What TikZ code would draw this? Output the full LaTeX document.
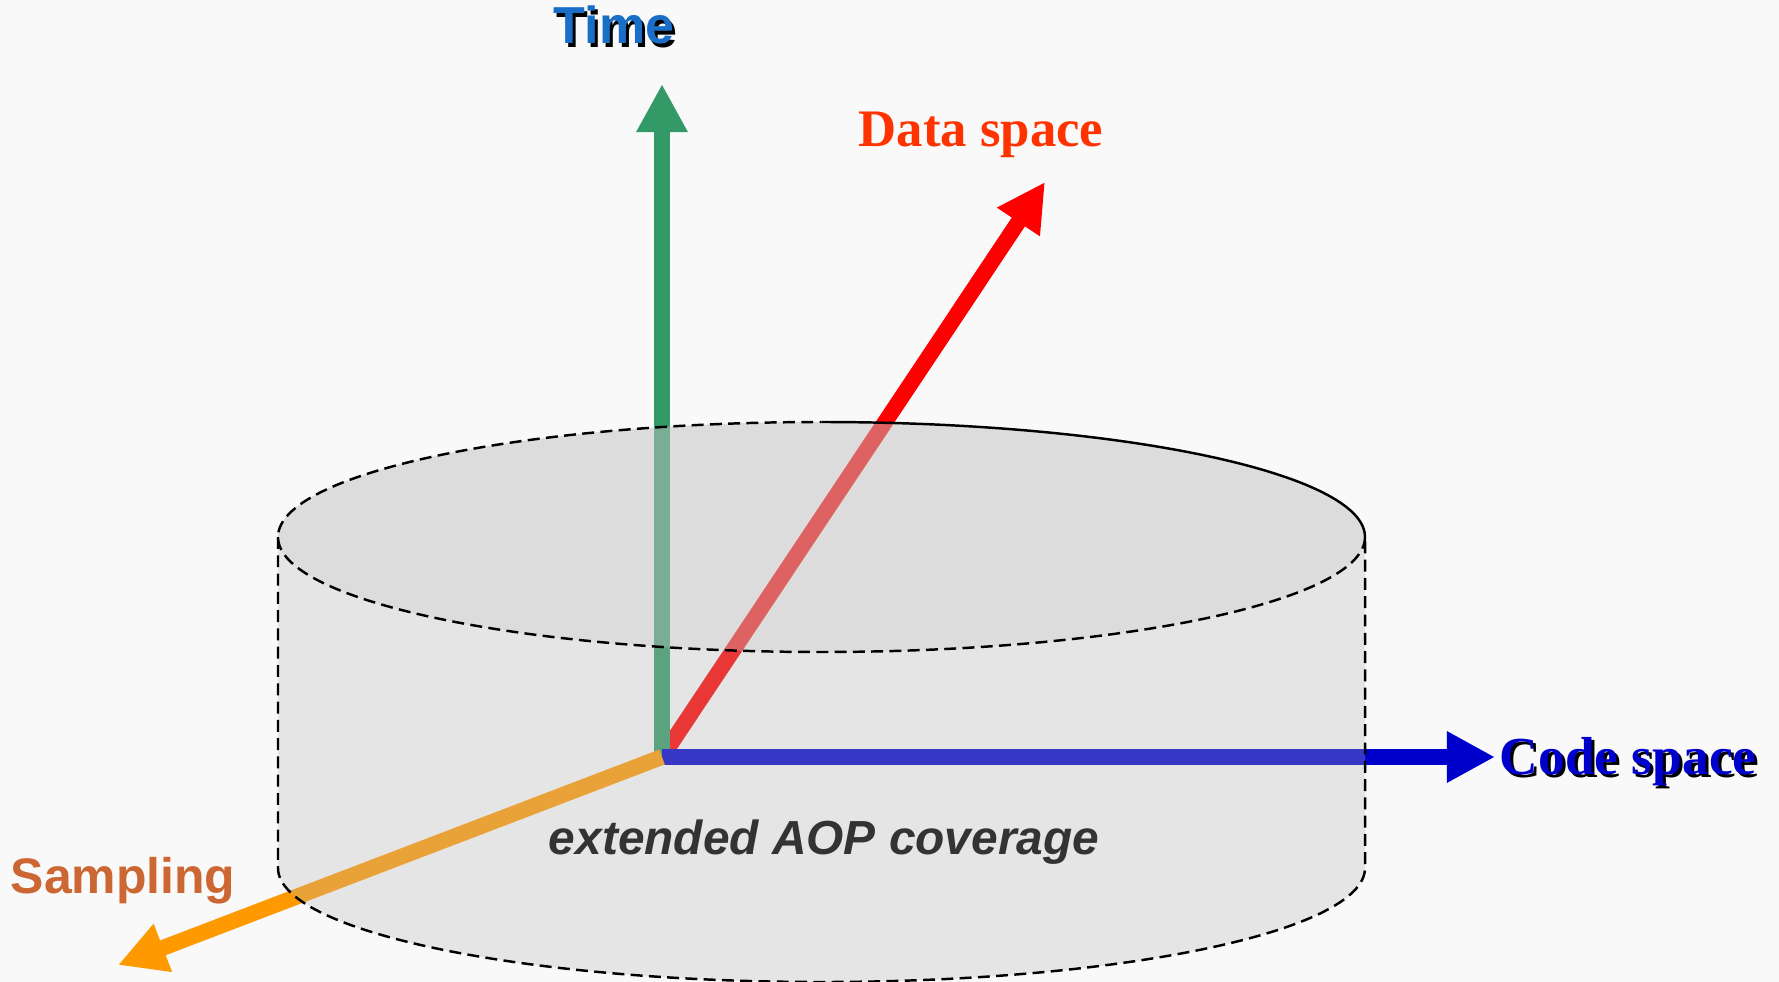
\documentclass[tikz,border=0pt]{standalone}
\usepackage{fontspec}
\setmainfont{Liberation Serif}
\setsansfont{Liberation Sans}
\usetikzlibrary{arrows.meta}

\definecolor{bgcol}{RGB}{249,249,249}
\definecolor{cylcol}{RGB}{185,185,185}
\definecolor{topcol}{RGB}{200,200,200}
\definecolor{timecol}{RGB}{51,153,102}
\definecolor{timetext}{RGB}{25,110,200}
\definecolor{datacol}{RGB}{255,0,0}
\definecolor{datatext}{RGB}{255,51,0}
\definecolor{codecol}{RGB}{0,0,204}
\definecolor{sampcol}{RGB}{255,153,0}
\definecolor{samptext}{RGB}{204,102,51}
\definecolor{covtext}{RGB}{51,51,51}

\newcommand{\shadowed}[2]{\makebox[0pt][l]{\hspace{0.9pt}\raisebox{-0.9pt}{\color{black}#2}}{\color{#1}#2}}

\begin{document}
\begin{tikzpicture}[x=0.01cm, y=-0.01cm,
    axis/.style={line width=4.5pt, -{Triangle[length=0.48cm, width=0.48cm]}},
    outline/.style={line width=0.7pt, dash pattern=on 3.4pt off 1.8pt},
    lbl/.style={inner sep=0pt, anchor=base}]
    \fill[bgcol] (0,0) rectangle (1779,982);
    \useasboundingbox (0,0) rectangle (1779,982);
    \coordinate (o) at (662,757);
    \coordinate (timetip) at (662,84);
    \coordinate (datatip) at (1045,182);
    \coordinate (codetip) at (1495,757);
    \coordinate (samptip) at (118,965);
    \draw[axis, datacol] (o) -- (datatip);
    \draw[axis, timecol] (o) -- (timetip);
    \draw[axis, codecol] (o) -- (codetip);
    \draw[axis, sampcol] (o) -- (samptip);
    \fill[cylcol, fill opacity=0.3] (278,537) -- (278,868)
        arc[start angle=180, end angle=360, x radius=543.5, y radius=-114]
        -- (1365,537)
        arc[start angle=0, end angle=180, x radius=543.5, y radius=-115] -- cycle;
    \fill[topcol, fill opacity=0.3] (821.5,537) ellipse[x radius=543.5, y radius=115];
    \draw[line width=0.7pt] (821.5,422)
        arc[start angle=90, end angle=0, x radius=543.5, y radius=-115];
    \draw[outline] (1365,537)
        arc[start angle=0, end angle=-270, x radius=543.5, y radius=-115];
    \draw[outline] (278,537) -- (278,868)
        arc[start angle=180, end angle=360, x radius=543.5, y radius=-114]
        -- (1365,537);
    \node[lbl, font=\sffamily\bfseries\fontsize{14.8}{17}\selectfont] (time) at (614,44) {\shadowed{timetext}{Time}};
    \node[lbl, font=\bfseries\fontsize{15}{18}\selectfont, text=datatext] (data) at (981,147) {Data space};
    \node[lbl, font=\bfseries\fontsize{15.2}{18}\selectfont, anchor=base west] (code) at (1499,774) {\shadowed{codecol}{Code space}};
    \node[lbl, font=\sffamily\bfseries\fontsize{14.2}{17}\selectfont, text=samptext, anchor=base west] (samp) at (10,893) {Sampling};
    \node[lbl, font=\sffamily\bfseries\itshape\fontsize{13.6}{16}\selectfont, text=covtext] (cov) at (824,854) {extended AOP coverage};
\end{tikzpicture}
\end{document}
